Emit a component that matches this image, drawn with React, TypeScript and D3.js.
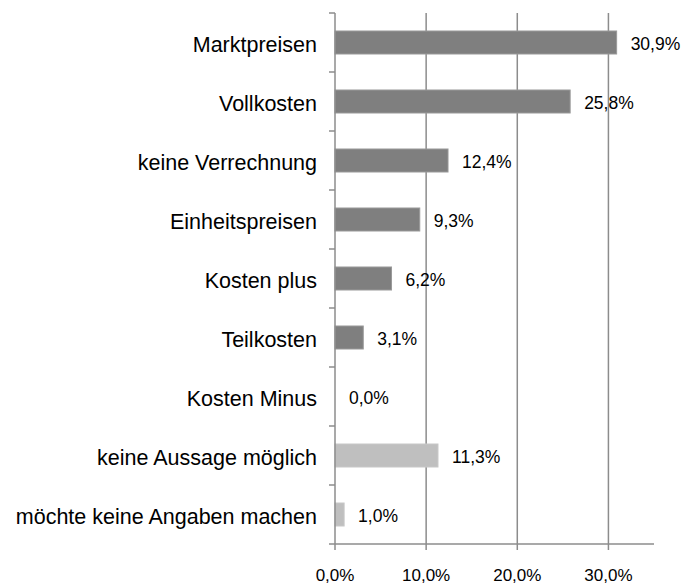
import { useRef, useEffect } from "react";
import * as d3 from "d3";

const categories = [
  "Marktpreisen",
  "Vollkosten",
  "keine Verrechnung",
  "Einheitspreisen",
  "Kosten plus",
  "Teilkosten",
  "Kosten Minus",
  "keine Aussage möglich",
  "möchte keine Angaben machen",
];
const values = [30.9, 25.8, 12.4, 9.3, 6.2, 3.1, 0.0, 11.3, 1.0];
const lightBars = ["keine Aussage möglich", "möchte keine Angaben machen"];
const xTicks = [0, 10, 20, 30];

const WIDTH = 696;
const HEIGHT = 587;
const MARGIN = { top: 13, right: 42, bottom: 43, left: 335 };
const FONT = "'Liberation Sans', Arial, sans-serif";

const fmt = (v: number) => `${v.toFixed(1).replace(".", ",")}%`;

export default function App() {
  const svgRef = useRef<SVGSVGElement>(null);

  useEffect(() => {
    if (!svgRef.current) return;
    const svg = d3.select(svgRef.current);
    svg.selectAll("*").remove();

    const innerW = WIDTH - MARGIN.left - MARGIN.right;
    const innerH = HEIGHT - MARGIN.top - MARGIN.bottom;
    const g = svg.append("g").attr("transform", `translate(${MARGIN.left},${MARGIN.top})`);

    const x = d3.scaleLinear().domain([0, 35]).range([0, innerW]);
    const y = d3.scaleBand().domain(categories).range([0, innerH]).paddingInner(0.61).paddingOuter(0.305);
    const yBand = d3.scaleBand().domain(categories).range([0, innerH]);

    // gridlines
    g.selectAll("line.grid")
      .data(xTicks.slice(1))
      .join("line")
      .attr("class", "grid")
      .attr("x1", (d) => x(d))
      .attr("x2", (d) => x(d))
      .attr("y1", 0)
      .attr("y2", innerH)
      .attr("stroke", "#8c8c8c")
      .attr("stroke-width", 1.5);

    // bars
    g.selectAll("rect.bar")
      .data(categories)
      .join("rect")
      .attr("class", "bar")
      .attr("x", 0)
      .attr("y", (d) => y(d)!)
      .attr("width", (d, i) => x(values[i]))
      .attr("height", y.bandwidth())
      .attr("fill", (d) => (lightBars.includes(d) ? "#bfbfbf" : "#7f7f7f"))
      .attr("stroke", (d, i) => (values[i] > 0 ? (lightBars.includes(d) ? "#c8c8c8" : "#9a9a9a") : "none"))
      .attr("stroke-width", 1);

    // value labels
    g.selectAll("text.val")
      .data(categories)
      .join("text")
      .attr("class", "val")
      .attr("x", (d, i) => x(values[i]) + 14)
      .attr("y", (d) => y(d)! + y.bandwidth() / 2)
      .attr("dy", "0.4em")
      .attr("font-family", FONT)
      .attr("font-size", 17.5)
      .attr("fill", "#000")
      .text((d, i) => fmt(values[i]));

    // y axis line + ticks at band edges
    g.append("line")
      .attr("x1", 0)
      .attr("x2", 0)
      .attr("y1", 0)
      .attr("y2", innerH)
      .attr("stroke", "#8c8c8c")
      .attr("stroke-width", 1.5);
    const edges = categories.map((c) => yBand(c)!).concat([innerH]);
    g.selectAll("line.ytick")
      .data(edges)
      .join("line")
      .attr("class", "ytick")
      .attr("x1", -6)
      .attr("x2", 0)
      .attr("y1", (d) => d)
      .attr("y2", (d) => d)
      .attr("stroke", "#8c8c8c")
      .attr("stroke-width", 1.5);

    // category labels
    g.selectAll("text.cat")
      .data(categories)
      .join("text")
      .attr("class", "cat")
      .attr("x", -18)
      .attr("y", (d) => yBand(d)! + yBand.bandwidth() / 2)
      .attr("dy", "0.42em")
      .attr("text-anchor", "end")
      .attr("font-family", FONT)
      .attr("font-size", 21.5)
      .attr("fill", "#000")
      .text((d) => d);

    // x axis
    g.append("line")
      .attr("x1", 0)
      .attr("x2", innerW)
      .attr("y1", innerH)
      .attr("y2", innerH)
      .attr("stroke", "#8c8c8c")
      .attr("stroke-width", 1.5);
    g.selectAll("line.xtick")
      .data(xTicks)
      .join("line")
      .attr("class", "xtick")
      .attr("x1", (d) => x(d))
      .attr("x2", (d) => x(d))
      .attr("y1", innerH)
      .attr("y2", innerH + 6)
      .attr("stroke", "#8c8c8c")
      .attr("stroke-width", 1.5);
    g.selectAll("text.xlab")
      .data(xTicks)
      .join("text")
      .attr("class", "xlab")
      .attr("x", (d) => x(d))
      .attr("y", innerH + 37)
      .attr("text-anchor", "middle")
      .attr("font-family", FONT)
      .attr("font-size", 17)
      .attr("fill", "#000")
      .text((d) => fmt(d));
  }, []);

  return (
    <svg
      ref={svgRef}
      width={WIDTH}
      height={HEIGHT}
      style={{ position: "absolute", left: 0, top: 0, background: "#fff" }}
    />
  );
}
